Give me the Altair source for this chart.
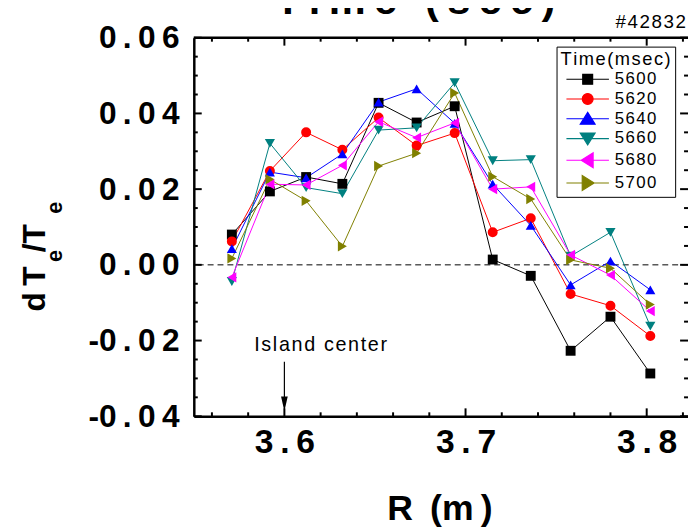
import altair as alt
import pandas as pd

FONT = "Liberation Sans"
TS = "\u2009"   # thin space, used to imitate the wide letter spacing
HS = "\u200a"   # hair space

# ---------------- data ----------------
R_VALUES = [3.571, 3.592, 3.612, 3.632, 3.652, 3.673, 3.694, 3.715, 3.736, 3.758, 3.780, 3.802]
SERIES = ["5600", "5620", "5640", "5660", "5680", "5700"]
T5600 = [0.0080, 0.0194, 0.0232, 0.0214, 0.0428, 0.0376, 0.0419, 0.0014, -0.0029, -0.0227, -0.0137, -0.0287]
T5620 = [0.0062, 0.0248, 0.0350, 0.0304, 0.0389, 0.0315, 0.0348, 0.0086, 0.0123, -0.0077, -0.0108, -0.0188]
T5640 = [0.0043, 0.0245, 0.0230, 0.0293, 0.0430, 0.0465, 0.0374, 0.0213, 0.0104, -0.0053, 0.0010, -0.0066]
T5660 = [-0.0044, 0.0321, 0.0204, 0.0188, 0.0356, 0.0362, 0.0481, 0.0275, 0.0278, 0.0023, 0.0086, -0.0162]
T5680 = [-0.0033, 0.0213, 0.0211, 0.0263, 0.0378, 0.0336, 0.0375, 0.0200, 0.0206, 0.0026, -0.0027, -0.0122]
T5700 = [0.0017, 0.0226, 0.0169, 0.0049, 0.0261, 0.0295, 0.0454, 0.0233, 0.0174, 0.0013, -0.0009, -0.0105]
ALL_SERIES = [T5600, T5620, T5640, T5660, T5680, T5700]

COLORS = ["#000000", "#FF0000", "#0000FF", "#008080", "#FF00FF", "#808000"]
SHAPES = ["square", "circle", "triangle-up", "triangle-down", "triangle-left", "triangle-right"]
SIZES = [100, 110, 170, 170, 170, 170]
LEGEND_SHAPES = [
    "M-4.3,0H4.3M-1,-1H1V1H-1Z",
    "M-4.3,0H4.3M-1.1,0A1.1,1.1 0 1,0 1.1,0A1.1,1.1 0 1,0 -1.1,0Z",
    "M-4.3,0H4.3M0,-1.3L1.5,1.1L-1.5,1.1Z",
    "M-4.3,0H4.3M-1.5,-1.1L1.5,-1.1L0,1.3Z",
    "M-4.3,0H4.3M-1.3,0L1.1,-1.5L1.1,1.5Z",
    "M-4.3,0H4.3M1.3,0L-1.1,-1.5L-1.1,1.5Z",
]

X_DOMAIN = [3.55, 3.8228]
Y_DOMAIN = [-0.04, 0.06]
X_LABEL_TICKS = [3.6, 3.7, 3.8]
X_MINOR_TICKS = [3.56, 3.58, 3.62, 3.64, 3.66, 3.68, 3.72, 3.74, 3.76, 3.78, 3.82]
Y_LABEL_TICKS = [-0.04, -0.02, 0.0, 0.02, 0.04, 0.06]
Y_MINOR_TICKS = [-0.035, -0.03, -0.025, -0.015, -0.01, -0.005, 0.005, 0.01, 0.015,
                 0.025, 0.03, 0.035, 0.045, 0.05, 0.055]

TITLE_TEXT = ["Time (sec)"]
SHOT_TEXT = ["#42832"]
LEGEND_TITLE = "Time(msec)"
X_TITLE = ["R" + TS + " (m" + TS + ")"]
ANNOT_TEXT = ["Island center"]
ANNOT_POS = {"R": [3.62], "y": [-0.0228]}
ARROW = {"R": [3.6], "y1": [-0.0256], "y2": [-0.0362], "head": [-0.03674]}

W, H = 500, 383

rows = []
for name, vals in zip(SERIES, ALL_SERIES):
    for r, v in zip(R_VALUES, vals):
        rows.append({"R": r, "dT": v, "Time": name})
df = pd.DataFrame(rows)

xs = alt.Scale(domain=X_DOMAIN, nice=False, zero=False)
ys = alt.Scale(domain=Y_DOMAIN, nice=False, zero=False)

spaced = "regexp('([^-])(?=.)', 'g'), '$1" + TS + "'"
x_axis = alt.Axis(values=X_LABEL_TICKS, ticks=False, tickSize=0, grid=False, title=None,
                  domainColor="black", domainWidth=2.5,
                  labelExpr="replace(format(datum.value, '.1f'), " + spaced + ")",
                  labelFont=FONT, labelFontSize=34, labelFontWeight="bold", labelColor="black",
                  labelPadding=10, labelFlush=False, labelOverlap=False)
y_axis = alt.Axis(values=Y_LABEL_TICKS, ticks=False, tickSize=0, grid=False, title=None,
                  domainColor="black", domainWidth=2.5,
                  labelExpr="replace(replace(format(datum.value, '.2f'), '\u2212', '-'), " + spaced + ")",
                  labelFont=FONT, labelFontSize=32, labelFontWeight="bold", labelColor="black",
                  labelPadding=15, labelFlush=False, labelOverlap=False)


def X(field):
    return alt.X(field, scale=xs, axis=x_axis)


def Y(field):
    return alt.Y(field, scale=ys, axis=y_axis)


color_scale = alt.Scale(domain=SERIES, range=COLORS)

zero_line = alt.Chart(pd.DataFrame({"z": [0.0]})).mark_rule(
    color="black", strokeWidth=1, strokeDash=[6, 4]
).encode(y=Y("z:Q"))

lines = alt.Chart(df).mark_line(strokeWidth=1).encode(
    x=X("R:Q"), y=Y("dT:Q"),
    color=alt.Color("Time:N", scale=color_scale, legend=None),
    detail="Time:N",
)

points = alt.Chart(df).mark_point(filled=True, opacity=1).encode(
    x=X("R:Q"), y=Y("dT:Q"),
    color=alt.Color("Time:N", scale=color_scale, legend=None),
    shape=alt.Shape("Time:N", scale=alt.Scale(domain=SERIES, range=SHAPES), legend=None),
    size=alt.Size("Time:O", scale=alt.Scale(domain=SERIES, range=SIZES), legend=None),
)

leg = alt.Legend(title=HS.join(list(LEGEND_TITLE)), orient="none", legendX=367, legendY=9,
                 strokeColor="black", fillColor="white", padding=4,
                 titleFont=FONT, titleFontSize=18.5, titleFontWeight="normal", titleColor="black",
                 titlePadding=2,
                 labelFont=FONT, labelFontSize=17, labelColor="black", labelOffset=19,
                 labelExpr="replace(datum.label, regexp('(.)(?=.)', 'g'), '$1" + HS + "')",
                 symbolSize=100, symbolStrokeWidth=1.2, symbolOffset=19, symbolOpacity=1,
                 rowPadding=2, direction="vertical")

legend_layer = alt.Chart(df).mark_point(filled=True, opacity=0, size=100).encode(
    x=X("R:Q"), y=Y("dT:Q"),
    shape=alt.Shape("Time:N", scale=alt.Scale(domain=SERIES, range=LEGEND_SHAPES), legend=leg),
    fill=alt.Fill("Time:N", scale=alt.Scale(domain=SERIES, range=COLORS), legend=leg),
    stroke=alt.Stroke("Time:N", scale=alt.Scale(domain=SERIES, range=COLORS), legend=leg),
)


def xticks(vals, length):
    d = pd.DataFrame({"v": vals})
    bottom = alt.Chart(d).mark_rule(color="black", strokeWidth=2).encode(
        x=X("v:Q"), y=alt.value(H), y2=alt.value(H - length))
    top = alt.Chart(d).mark_rule(color="black", strokeWidth=2).encode(
        x=X("v:Q"), y=alt.value(0), y2=alt.value(length))
    return [bottom, top]


def yticks(vals, length):
    d = pd.DataFrame({"v": vals})
    left = alt.Chart(d).mark_rule(color="black", strokeWidth=2).encode(
        y=Y("v:Q"), x=alt.value(0), x2=alt.value(length))
    right = alt.Chart(d).mark_rule(color="black", strokeWidth=2).encode(
        y=Y("v:Q"), x=alt.value(W), x2=alt.value(W - length))
    return [left, right]


tick_layers = (xticks(X_LABEL_TICKS, 8) + xticks(X_MINOR_TICKS, 4)
               + yticks(Y_LABEL_TICKS, 8) + yticks(Y_MINOR_TICKS, 4))

top_frame = alt.Chart(pd.DataFrame({"a": [0]})).mark_rule(color="black", strokeWidth=2.5).encode(
    x=alt.value(0), x2=alt.value(W), y=alt.value(0))


def text_layer(txt, x, y, size, weight="normal", align="center", angle=0):
    return alt.Chart(pd.DataFrame({"t": txt})).mark_text(
        font=FONT, fontSize=size, fontWeight=weight, align=align, baseline="alphabetic",
        angle=angle, color="black"
    ).encode(text="t:N", x=x, y=y)


texts = [
    text_layer([TS.join(list(TITLE_TEXT[0]))], alt.value(224), alt.value(-24), 42, "bold"),
    text_layer([HS.join(list(SHOT_TEXT[0]))], alt.value(498), alt.value(-10), 19, align="right"),
    text_layer(X_TITLE, alt.value(249), alt.value(488), 36, "bold"),
    text_layer(["d" + TS + "T"], alt.value(-151), alt.value(277), 32, "bold", align="left", angle=270),
    text_layer(["e"], alt.value(-133), alt.value(227), 22, "bold", align="left", angle=270),
    text_layer(["/T"], alt.value(-151), alt.value(217), 32, "bold", align="left", angle=270),
    text_layer(["e"], alt.value(-133), alt.value(178), 22, "bold", align="left", angle=270),
]

annot = alt.Chart(pd.DataFrame({"R": ANNOT_POS["R"], "y": ANNOT_POS["y"],
                                "t": [HS.join(list(ANNOT_TEXT[0]))]})).mark_text(
    font=FONT, fontSize=20, align="center", baseline="alphabetic", color="black"
).encode(x=X("R:Q"), y=Y("y:Q"), text="t:N")

arrow_df = pd.DataFrame(ARROW)
arrow_line = alt.Chart(arrow_df).mark_rule(color="black", strokeWidth=1.2).encode(
    x=X("R:Q"), y=Y("y1:Q"), y2="y2:Q")
arrow_head = alt.Chart(arrow_df).mark_point(
    filled=True, opacity=1, color="black", shape="M-0.45,-1L0.45,-1L0,1Z", size=225
).encode(x=X("R:Q"), y=Y("head:Q"))

chart = alt.layer(
    zero_line, lines, points, legend_layer, *tick_layers, top_frame,
    arrow_line, arrow_head, annot, *texts
).resolve_scale(
    shape="independent", size="independent", fill="independent", stroke="independent"
).properties(
    width=W, height=H,
    padding={"left": 188, "top": 27, "right": 0, "bottom": 112},
    autosize=alt.AutoSizeParams(type="none"),
    background="white",
).configure_view(stroke=None)

chart.save("out.html", embed_options={"renderer": "svg", "actions": False})
